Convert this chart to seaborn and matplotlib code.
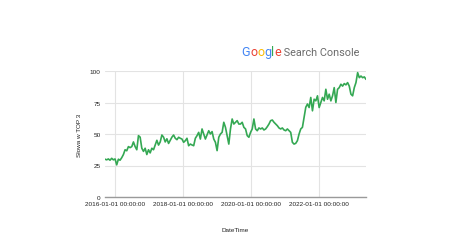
import numpy as np
import pandas as pd
import matplotlib
matplotlib.use("Agg")
import matplotlib.pyplot as plt
import seaborn as sns

# ---- data ----
start_date = "2015-09-15"
end_date = "2023-05-18"
values_2015_2017 = [30, 29.5, 30.2, 29.2, 30.7, 29.5, 30.2, 25.5, 30, 29.2, 31.2, 33.7, 37.5, 36.7,
                    40, 39.2, 40, 43.7, 40, 37.5, 48.7, 47.5, 38.7, 36.2, 38.7, 33.7, 37.5, 35, 38.7,
                    37.5, 41.2, 45, 41.2, 43.7, 49.2, 47.5, 43.7, 46.2, 42.5, 45, 47.5]
values_2017_2019 = [49.2, 46.6, 45.5, 47.4, 46.6, 46, 43.4, 44.7, 46.6, 40.7, 42, 41.3, 40.7, 46.6,
                    48.7, 51.3, 46, 54, 50, 46, 49.2, 52.6, 50, 51.9, 46, 43.4, 36.8, 47.4, 50, 51.3,
                    59.3, 55.3, 48.7, 42, 54, 61.9, 57.9, 59.3, 60.6, 57.9]
values_2019_2021 = [57.9, 59.3, 55.3, 54, 48.7, 47.4, 51.3, 54, 61.9, 54, 52.6, 54.8, 54, 54.8, 53.2,
                    54, 55.8, 57.9, 60.6, 61.1, 59.3, 57.9, 56.6, 54.8, 54, 54.8, 53.2, 52.6, 54, 52.6,
                    51.3, 43.4, 42, 42.6, 44.7, 50, 54, 55.3, 63.2, 71.2, 73.8]
values_2021_2023 = [71, 79, 68.4, 77.6, 76.3, 80.3, 71, 75, 79, 76.3, 85.5, 77.6, 81.6, 76.3, 80.3,
                    86.8, 75, 85.5, 86.8, 89.5, 88, 90, 89, 90.8, 88, 81.6, 80.3, 86.8, 90.8, 98.7,
                    94.7, 96, 94.7, 95.3, 93.4]
values = values_2015_2017 + values_2017_2019 + values_2019_2021 + values_2021_2023
dates = pd.date_range(start_date, end_date, periods=len(values))

y_ticks = [0, 25, 50, 75, 100]
tick_dates = ["2016-01-01", "2018-01-01", "2020-01-01", "2022-01-01"]
tick_labels = ["2016-01-01 00:00:00", "2018-01-01 00:00:00", "2020-01-01 00:00:00", "2022-01-01 00:00:00"]
x_label = "DateTime"
y_label = "Słowa w TOP 3"
brand_letters = ["G", "o", "o", "g", "l", "e"]
brand_colors = ["#4285F4", "#EA4335", "#FBBC05", "#4285F4", "#34A853", "#EA4335"]
product_name = " Search Console"

df = pd.DataFrame({"DateTime": dates, "value": values})

# ---- plotting ----
sns.set_theme(style="whitegrid")
plt.rcParams["font.family"] = ["Liberation Sans", "DejaVu Sans"]

fig = plt.figure(figsize=(4.5, 2.53), dpi=100)
ax = fig.add_axes([105 / 450, 1 - 198 / 253, (366 - 105) / 450, (198 - 72) / 253])

sns.lineplot(data=df, x="DateTime", y="value", ax=ax, color="#34A853", linewidth=1.2)

ax.set_ylim(0, 100)
ax.set_yticks(y_ticks)
ax.set_xlim(dates[0], dates[-1])
ax.set_xticks(pd.to_datetime(tick_dates))
ax.set_xticklabels(tick_labels)

ax.grid(True, color="#e3e3e3", linewidth=0.8)
ax.set_facecolor("white")
for s in ["left", "right", "top"]:
    ax.spines[s].set_visible(False)
ax.spines["bottom"].set_visible(True)
ax.spines["bottom"].set_color("#9a9a9a")
ax.spines["bottom"].set_linewidth(1.0)
ax.tick_params(axis="both", length=0, labelsize=4.6, colors="#222222", pad=3)

ax.set_xlabel(x_label, fontsize=4.6, color="#222222", labelpad=15)
ax.set_ylabel(y_label, fontsize=4.6, color="#222222", labelpad=6)

# brand title
fig.canvas.draw()
renderer = fig.canvas.get_renderer()
x0 = 241.7 / 450
yb = 1 - 56 / 253
cur = x0
for ch, col in zip(brand_letters, brand_colors):
    t = fig.text(cur, yb, ch, color=col, fontsize=9.0, fontfamily=["Roboto", "DejaVu Sans"],
                 va="baseline", ha="left")
    bb = t.get_window_extent(renderer)
    cur += bb.width / fig.bbox.width
fig.text(cur, yb, product_name, color="#6b6b6b", fontsize=7.8, fontfamily=["Roboto", "DejaVu Sans"],
         va="baseline", ha="left")

fig.savefig("out.png", dpi=100, facecolor="white")
